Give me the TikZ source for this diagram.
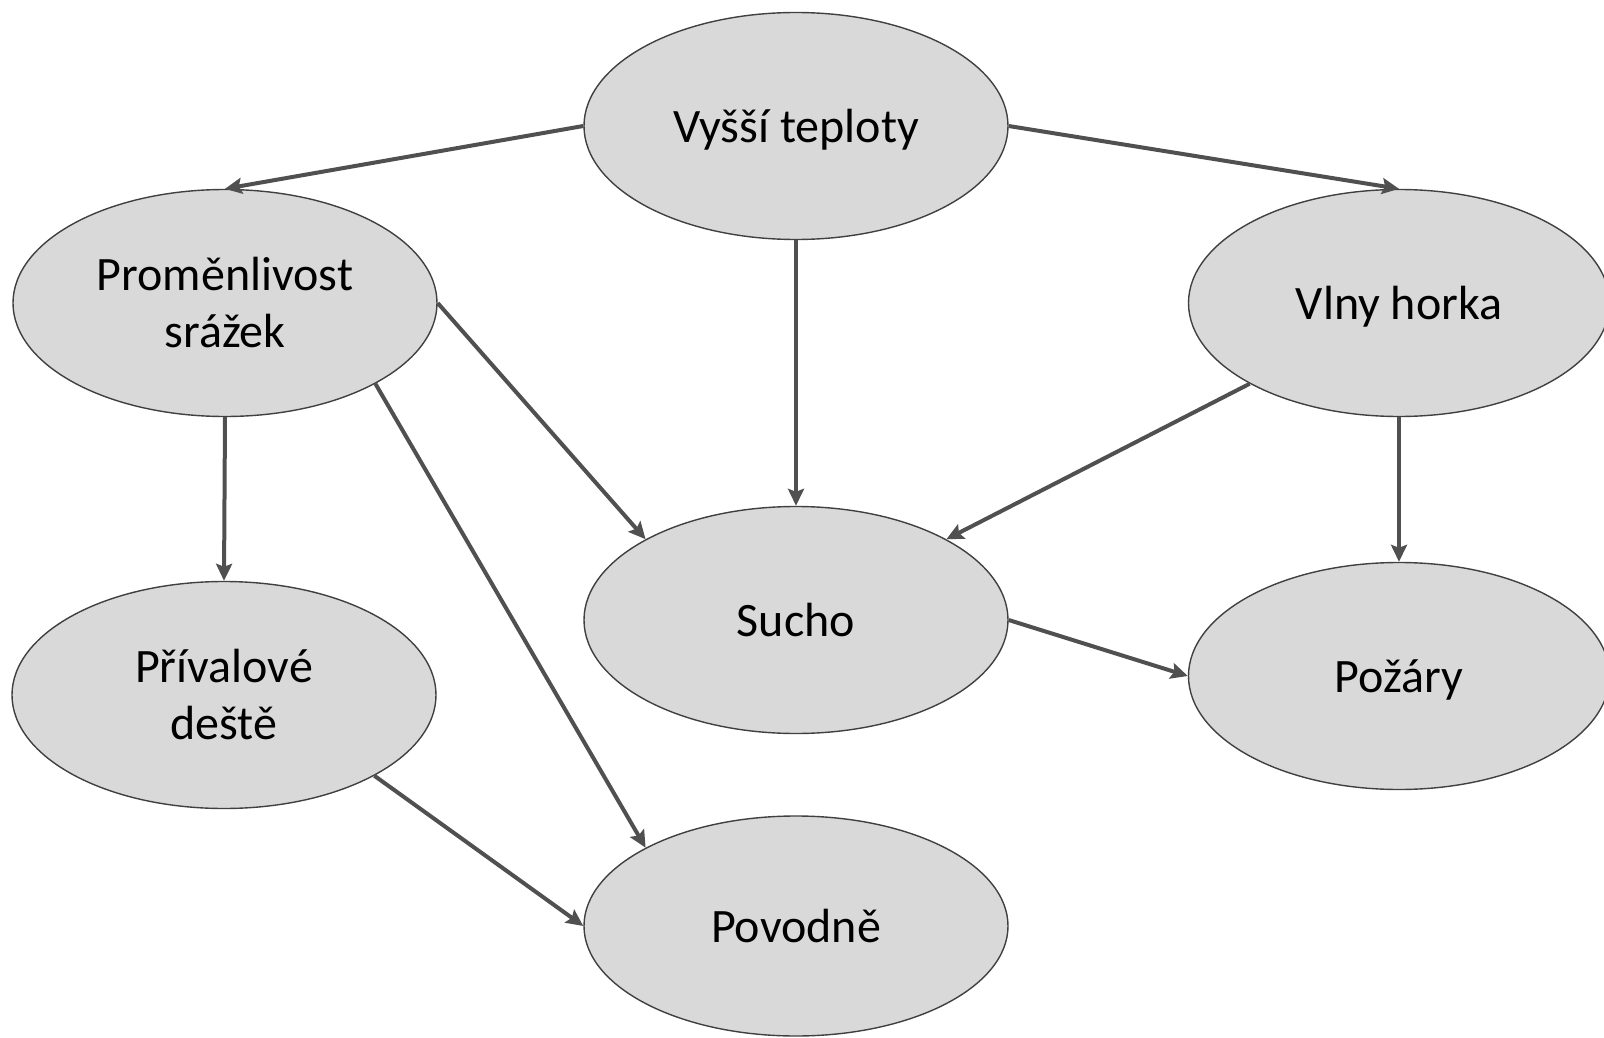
\documentclass[tikz,border=0pt]{standalone}
\usepackage{fontspec}
\setmainfont{Carlito}
\usepackage{tikz}
\usetikzlibrary{arrows.meta,shapes.geometric}
\definecolor{bublfill}{HTML}{D9D9D9}
\definecolor{bubldraw}{HTML}{404040}
\definecolor{sipkacol}{HTML}{505050}
\tikzset{
	%Define standard arrow tip
	>={Stealth[length=17pt,width=16pt,inset=3pt]},
	%Define style for bubbles
	bublina/.style={
		ellipse,
		fill=bublfill,
		draw=bubldraw, line width=1.4pt,
		minimum width=424pt,
		minimum height=227pt,
		inner sep=0pt,
		align=center,
		font=\fontsize{48}{57}\selectfont},
	% Define arrow style
	sipka/.style={
		->,
		draw=sipkacol,
		line width=4pt}
}
\begin{document}
\begin{tikzpicture}[x=1pt,y=-1pt]
		\useasboundingbox (0,0) rectangle (1604,1038);
		%nodes
		\node[bublina, text depth=0pt] (vyssi) at (796,126) {Vyšší teploty};
		\node[bublina] (promenlivost) at (225,303) {Proměnlivost\\srážek};
		\node[bublina, minimum width=421pt, text depth=0pt] (vlny) at (1399,303) {Vlny horka};
		\node[bublina] (sucho) at (796,620) {Sucho};
		\node[bublina] (privalove) at (224,695) {Přívalové\\deště};
		\node[bublina, minimum width=421pt, text depth=0pt] (pozary) at (1399,676) {Požáry};
		\node[bublina, minimum height=220pt] (povodne) at (796,926) {Povodně};
		% arrows between the bubbles
		\draw[sipka] (vyssi.west) -- (promenlivost.north);
		\draw[sipka] (vyssi.east) -- (vlny.north);
		\draw[sipka] (vyssi.south) -- (sucho.north);
		\draw[sipka] (promenlivost.east) -- (sucho.north west);
		\draw[sipka] (promenlivost.south east) -- (povodne.north west);
		\draw[sipka] (promenlivost.south) -- (privalove.north);
		\draw[sipka] (privalove.south east) -- (povodne.west);
		\draw[sipka] (vlny.south west) -- (sucho.north east);
		\draw[sipka] (vlny.south) -- (pozary.north);
		\draw[sipka] (sucho.east) -- (pozary.west);
\end{tikzpicture}
\end{document}
